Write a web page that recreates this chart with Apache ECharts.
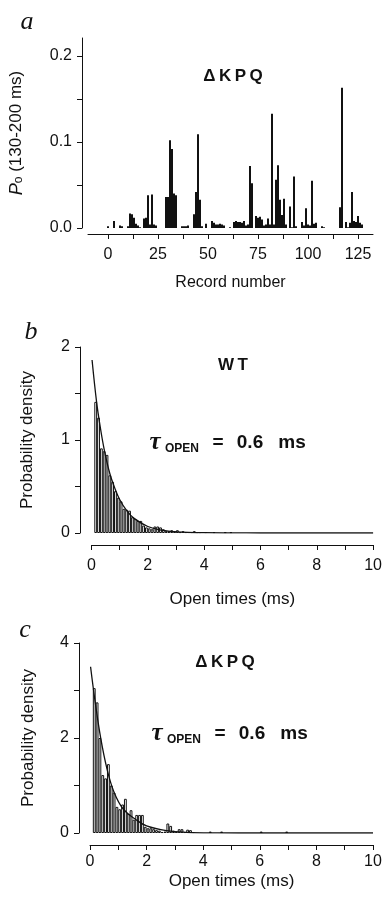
<!DOCTYPE html>
<html>
<head>
<meta charset="utf-8">
<script src="https://cdn.jsdelivr.net/npm/echarts@6/dist/echarts.min.js"></script>
<style>
  html, body { margin: 0; padding: 0; background: #fff; }
  #main { width: 385px; height: 903px; }
</style>
</head>
<body>
<div id="main"></div>
<script>
// panel a: open probability (130-200 ms) for each record, ΔKPQ
const recordNumbers = [0, 3, 6, 7, 10, 11, 12, 13, 14, 15, 16, 18, 19, 20, 21, 22, 23, 24,
  29, 30, 31, 32, 33, 34, 37, 38, 39, 40, 43, 44, 45, 46, 47, 49, 52, 53, 54, 55, 56, 57, 58,
  61, 63, 64, 65, 66, 67, 68, 69, 70, 71, 72, 74, 75, 76, 77, 78, 79, 80, 81, 82, 83, 84, 85,
  86, 87, 88, 89, 91, 92, 93, 94, 97, 98, 99, 100, 101, 102, 103, 104, 107, 108, 116, 117,
  119, 120, 121, 122, 123, 124, 125, 126, 127];
const poValues = [0.002, 0.008, 0.003, 0.002, 0.002, 0.017, 0.016, 0.012, 0.005, 0.003, 0.001,
  0.011, 0.012, 0.038, 0.004, 0.039, 0.004, 0.003,
  0.036, 0.036, 0.102, 0.092, 0.040, 0.038, 0.002, 0.002, 0.002, 0.003, 0.016, 0.042, 0.109,
  0.033, 0.002, 0.005, 0.008, 0.006, 0.004, 0.004, 0.005, 0.004, 0.003,
  0.001, 0.007, 0.008, 0.007, 0.007, 0.006, 0.008, 0.003, 0.004, 0.072, 0.052, 0.014, 0.012,
  0.013, 0.010, 0.003, 0.004, 0.011, 0.004, 0.133, 0.004, 0.056, 0.073,
  0.033, 0.015, 0.034, 0.004, 0.025, 0.001, 0.060, 0.002, 0.007, 0.003, 0.023, 0.004, 0.003,
  0.055, 0.005, 0.006, 0.002, 0.001, 0.024, 0.163,
  0.007, 0.001, 0.006, 0.042, 0.008, 0.007, 0.014, 0.006, 0.004];
const recordTicks = [0, 12.5, 25, 37.5, 50, 62.5, 75, 87.5, 100, 112.5, 125];
const recordLabels = [0, 25, 50, 75, 100, 125];
const poTicks = [0, 0.05, 0.1, 0.15, 0.2];
const poLabels = [0, 0.1, 0.2];

// panel b: WT open time histogram (bin centres, ms) and density
const wtTimes = [0.15, 0.25, 0.35, 0.45, 0.55, 0.65, 0.75, 0.85, 0.95, 1.05, 1.15, 1.25, 1.35,
  1.45, 1.55, 1.65, 1.75, 1.85, 1.95, 2.05, 2.15, 2.25, 2.35, 2.45, 2.55, 2.65, 2.75, 2.85,
  2.95, 3.05, 3.15, 3.25, 3.35, 3.45, 3.55, 3.65, 3.75, 3.85, 4.05, 4.35, 4.75, 4.95];
const wtDensity = [1.41, 1.24, 0.91, 0.88, 0.84, 0.62, 0.55, 0.45, 0.38, 0.34, 0.26, 0.25, 0.24,
  0.17, 0.15, 0.13, 0.13, 0.08, 0.06, 0.05, 0.04, 0.07, 0.07, 0.06, 0.04, 0.02, 0.02, 0.03,
  0.02, 0.03, 0.01, 0.02, 0.01, 0.01, 0.01, 0.02, 0.01, 0.01, 0.01, 0.01, 0.01, 0.01];
const wtFitT = [0.02, 0.18, 0.3, 0.45, 0.65, 0.83, 1.0, 1.25, 1.5, 2.0, 2.5, 3.0, 4.0, 5.0, 6.0, 10];
const wtFitY = [1.86, 1.41, 1.16, 0.9, 0.64, 0.48, 0.36, 0.24, 0.16, 0.07, 0.03, 0.013, 0.003, 0.001, 0, 0];

// panel c: ΔKPQ open time histogram
const kpqTimes = [0.15, 0.25, 0.35, 0.45, 0.55, 0.65, 0.75, 0.85, 0.95, 1.05, 1.15, 1.25, 1.35,
  1.45, 1.55, 1.65, 1.75, 1.85, 1.95, 2.05, 2.15, 2.25, 2.35, 2.45, 2.55, 2.65, 2.75, 2.85,
  2.95, 3.05, 3.15, 3.25, 3.35, 3.45, 3.55, 3.65, 4.25, 4.65, 6.05, 6.95];
const kpqDensity = [3.05, 2.75, 2.0, 1.22, 1.15, 1.45, 1.0, 0.85, 0.55, 0.5, 0.6, 0.72, 0.4,
  0.48, 0.28, 0.38, 0.38, 0.38, 0.13, 0.1, 0.1, 0.08, 0.06, 0.05, 0.02, 0.03, 0.2, 0.15,
  0.05, 0.03, 0.08, 0.08, 0.02, 0.07, 0.06, 0.02, 0.03, 0.03, 0.03, 0.03];
const kpqFitT = [0.02, 0.18, 0.38, 0.6, 0.85, 1.18, 1.65, 2.0, 2.7, 3.4, 4.5, 6.0, 10];
const kpqFitY = [3.5, 2.77, 1.99, 1.35, 0.86, 0.5, 0.27, 0.15, 0.05, 0.015, 0.003, 0, 0];

const timeTicks = [0, 1, 2, 3, 4, 5, 6, 7, 8, 9, 10];
const timeLabels = [0, 2, 4, 6, 8, 10];

const sans = 'Liberation Sans';
const serif = 'Liberation Serif';
const ink = '#111';

function xAxisFor(gridIndex, min, max, ticks, labels, name, offset, margin, nameGap, nameSize) {
  return {
    type: 'value', gridIndex, min, max, offset,
    axisLine: { show: true, onZero: false, lineStyle: { color: ink, width: 1 } },
    axisTick: { show: true, customValues: ticks, length: 5, lineStyle: { color: ink } },
    axisLabel: { customValues: labels, color: ink, fontSize: 16, fontFamily: sans, margin },
    splitLine: { show: false },
    name, nameLocation: 'middle', nameGap,
    nameTextStyle: { color: ink, fontSize: nameSize, fontFamily: sans },
  };
}

function yAxisFor(gridIndex, min, max, ticks, labels, name, offset, nameGap, fmt, rich) {
  return {
    type: 'value', gridIndex, min, max, offset,
    axisLine: { show: true, onZero: false, lineStyle: { color: ink, width: 1 } },
    axisTick: { show: true, customValues: ticks, length: 5, lineStyle: { color: ink } },
    axisLabel: { customValues: labels, color: ink, fontSize: 16, fontFamily: sans, margin: 10, formatter: fmt },
    splitLine: { show: false },
    name, nameLocation: 'middle', nameGap, nameRotate: 90,
    nameTextStyle: { color: ink, fontSize: 17, fontFamily: sans, rich },
  };
}

function histBars(xi, times, dens) {
  return {
    type: 'bar', xAxisIndex: xi, yAxisIndex: xi,
    data: times.map((t, i) => [t, dens[i]]),
    barWidth: 2.83,
    itemStyle: { color: '#fff', borderColor: ink, borderWidth: 1 },
    z: 2,
  };
}

function fitLine(xi, ts, ys) {
  return {
    type: 'line', xAxisIndex: xi, yAxisIndex: xi,
    data: ts.map((t, i) => [t, ys[i]]),
    smooth: 0.4, showSymbol: false, symbol: 'none',
    lineStyle: { color: ink, width: 1.3 },
    z: 3,
  };
}

function label(text, x, y, style) {
  return {
    type: 'text', x, y,
    style: Object.assign({ text, fill: ink, fontFamily: sans, align: 'center', verticalAlign: 'middle' }, style),
  };
}

function tauText(y, dx) {
  const big = { fontSize: 19, fontWeight: 'bold' };
  return [
    label('τ', 155 + dx, y, { fontFamily: serif, fontStyle: 'italic', fontWeight: 'bold', fontSize: 25 }),
    label('OPEN', 165 + dx, y + 6, { fontSize: 12, fontWeight: 'bold', align: 'left' }),
    label('=', 218 + dx, y, big),
    label('0.6', 250 + dx, y, big),
    label('ms', 292 + dx, y, big),
  ];
}

const chart = echarts.init(document.getElementById('main'));
chart.setOption({
  animation: false,
  backgroundColor: '#fff',
  grid: [
    { left: 88, top: 38, width: 285, height: 190 },
    { left: 91.5, top: 347, width: 282.5, height: 186 },
    { left: 90, top: 643, width: 283, height: 190 },
  ],
  xAxis: [
    xAxisFor(0, -10, 132.5, recordTicks, recordLabels, 'Record number', 6, 13, 41, 16),
    xAxisFor(1, 0, 10, timeTicks, timeLabels, 'Open times (ms)', 12, 13, 46, 17),
    xAxisFor(2, 0, 10, timeTicks, timeLabels, 'Open times (ms)', 12, 9, 28, 17),
  ],
  yAxis: [
    yAxisFor(0, 0, 0.221, poTicks, poLabels, '{p|P}{sub|o}{r| (130-200 ms)}', 6, 57,
      (v) => v.toFixed(1),
      {
        p: { fontStyle: 'italic', fontSize: 18, fontFamily: sans, lineHeight: 17, verticalAlign: 'top', color: ink },
        sub: { fontSize: 12, fontFamily: sans, lineHeight: 12, verticalAlign: 'bottom', color: ink },
        r: { fontSize: 17, fontFamily: sans, lineHeight: 17, verticalAlign: 'top', color: ink },
      }),
    yAxisFor(1, 0, 2, [0, 0.5, 1, 1.5, 2], [0, 1, 2], 'Probability density', 11.5, 44, (v) => String(v)),
    yAxisFor(2, 0, 4, [0, 1, 2, 3, 4], [0, 2, 4], 'Probability density', 11, 42, (v) => String(v)),
  ],
  series: [
    {
      type: 'bar', xAxisIndex: 0, yAxisIndex: 0,
      data: recordNumbers.map((r, i) => [r, poValues[i]]),
      barWidth: 2,
      itemStyle: { color: ink },
    },
    histBars(1, wtTimes, wtDensity),
    fitLine(1, wtFitT, wtFitY),
    histBars(2, kpqTimes, kpqDensity),
    fitLine(2, kpqFitT, kpqFitY),
  ],
  graphic: [
    label('a', 27, 22, { fontFamily: serif, fontStyle: 'italic', fontSize: 26 }),
    label('Δ\u2009K\u2009P\u2009Q', 233, 76, { fontSize: 17, fontWeight: 'bold' }),
    label('b', 31, 332, { fontFamily: serif, fontStyle: 'italic', fontSize: 26 }),
    label('W\u2009T', 233, 365, { fontSize: 17, fontWeight: 'bold' }),
    ...tauText(443, 0),
    label('c', 25, 630, { fontFamily: serif, fontStyle: 'italic', fontSize: 26 }),
    label('Δ\u2009K\u2009P\u2009Q', 225, 662, { fontSize: 17, fontWeight: 'bold' }),
    ...tauText(734, 2),
  ],
});
</script>
</body>
</html>
